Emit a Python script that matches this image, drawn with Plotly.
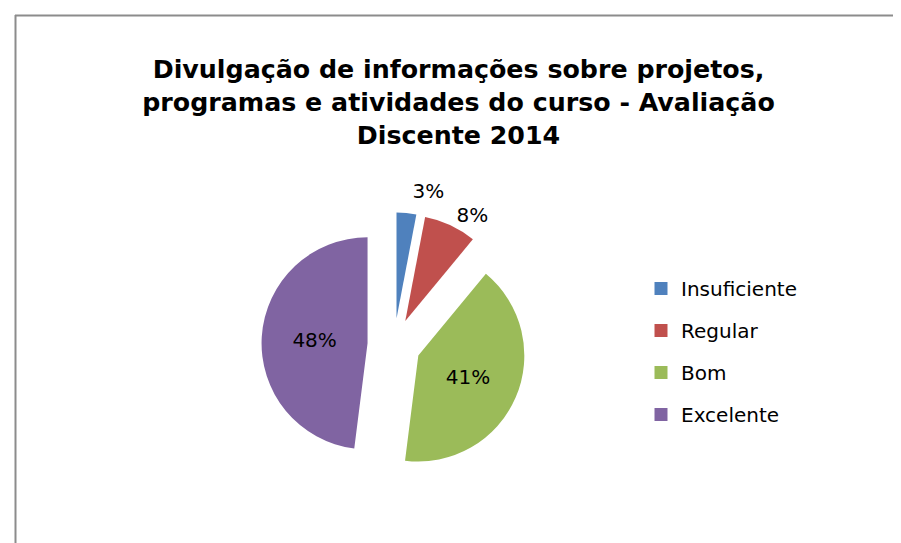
import plotly.graph_objects as go

# chart data
categories = ["Insuficiente", "Regular", "Bom", "Excelente"]
shares = [3, 8, 41, 48]
colors = ["#4F81BD", "#C0504D", "#9BBB59", "#8064A2"]
label_pos = ["outside", "outside", "inside", "inside"]

title_text = ("<b>Divulgação de informações sobre projetos,<br>"
              "programas e atividades do curso - Avaliação<br>"
              "Discente 2014</b>")

W, H = 901, 543
cx, cy, half = 386, 337, 132.5

fig = go.Figure()

fig.add_trace(
    go.Pie(
        labels=categories,
        values=shares,
        sort=False,
        direction="clockwise",
        rotation=0,
        pull=0.25,
        marker=dict(colors=colors, line=dict(width=0)),
        # span style keeps the text black while the leader line stays invisible
        texttemplate="<span style='color:#000000;fill-opacity:1'>%{percent:.0%}</span>",
        textposition=label_pos,
        textfont=dict(family="DejaVu Sans", size=20, color="#000000"),
        outsidetextfont=dict(family="DejaVu Sans", size=20, color="rgba(255,255,255,0)"),
        insidetextorientation="horizontal",
        showlegend=False,
        hoverinfo="label+percent",
        domain=dict(
            x=[(cx - half) / W, (cx + half) / W],
            y=[(H - cy - half) / H, (H - cy + half) / H],
        ),
    )
)

# legend entries (one group each so the spacing matches the original)
for name, col in zip(categories, colors):
    fig.add_trace(
        go.Scatter(
            x=[None], y=[None], mode="markers", name=name, legendgroup=name,
            marker=dict(symbol="square", size=13, color=col),
        )
    )

fig.add_shape(
    type="line", xref="paper", yref="paper", x0=7 / W, x1=1.01, y0=1 - 7.5 / H, y1=1 - 7.5 / H,
    line=dict(color="#8c8c8c", width=2),
)
fig.add_shape(
    type="line", xref="paper", yref="paper", x0=7.5 / W, x1=7.5 / W, y0=-0.01, y1=1 - 7 / H,
    line=dict(color="#8c8c8c", width=2),
)

fig.update_layout(
    width=W,
    height=H,
    margin=dict(l=0, r=0, t=0, b=0),
    paper_bgcolor="white",
    plot_bgcolor="white",
    title=dict(
        text=title_text,
        x=0.5,
        xanchor="center",
        y=1 - 70 / H,
        yanchor="top",
        font=dict(family="DejaVu Sans", size=25.3, color="#000000"),
    ),
    xaxis=dict(visible=False),
    yaxis=dict(visible=False),
    legend=dict(
        x=(682 - 49) / W,
        xanchor="left",
        y=1 - 261 / H,
        yanchor="top",
        tracegroupgap=13,
        font=dict(family="DejaVu Sans", size=20, color="#000000"),
        bgcolor="rgba(0,0,0,0)",
    ),
)

fig.write_html("out.html")
